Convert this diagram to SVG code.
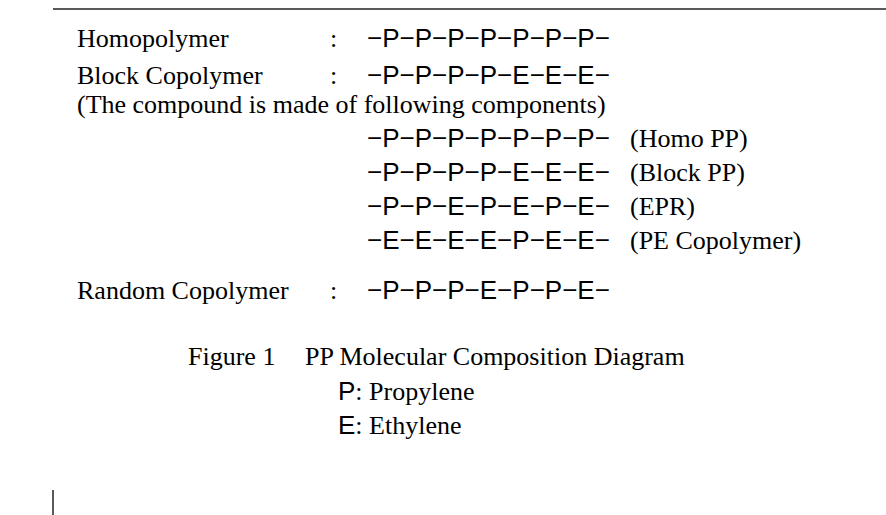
<svg xmlns="http://www.w3.org/2000/svg" width="886" height="515" viewBox="0 0 886 515">
<style>
.t{font-family:"Liberation Serif","Times New Roman",serif;font-size:26px;fill:#000}
.s{font-family:"Liberation Sans",Arial,sans-serif;font-size:26px;fill:#000}
.ln{stroke:#222;stroke-width:1.5;fill:none}
</style>
<rect width="886" height="515" fill="#fff"/>
<g id="frame">
<line class="ln" x1="53" y1="9" x2="886" y2="9"/>
<line class="ln" x1="53" y1="490" x2="53" y2="515"/>
</g>
<g id="homopolymer">
<text class="t" x="77" y="47">Homopolymer</text>
<text class="t" x="330" y="47">:</text>
<text class="s" x="367" y="47">−P−P−P−P−P−P−P−</text>
</g>
<g id="block">
<text class="t" x="77" y="84">Block Copolymer</text>
<text class="t" x="330" y="84">:</text>
<text class="s" x="367" y="84">−P−P−P−P−E−E−E−</text>
<text class="t" x="77" y="113">(The compound is made of following components)</text>
</g>
<g id="components">
<text class="s" x="367" y="147">−P−P−P−P−P−P−P−</text><text class="t" x="630" y="147">(Homo PP)</text>
<text class="s" x="367" y="181">−P−P−P−P−E−E−E−</text><text class="t" x="630" y="181">(Block PP)</text>
<text class="s" x="367" y="215">−P−P−E−P−E−P−E−</text><text class="t" x="630" y="215">(EPR)</text>
<text class="s" x="367" y="249">−E−E−E−E−P−E−E−</text><text class="t" x="630" y="249">(PE Copolymer)</text>
</g>
<g id="random">
<text class="t" x="77" y="299">Random Copolymer</text>
<text class="t" x="330" y="299">:</text>
<text class="s" x="367" y="299">−P−P−P−E−P−P−E−</text>
</g>
<g id="caption">
<text class="t" x="188" y="365">Figure 1</text>
<text class="t" x="305" y="365">PP Molecular Composition Diagram</text>
<text class="t" x="338" y="400"><tspan class="s">P</tspan>: Propylene</text>
<text class="t" x="338" y="434"><tspan class="s">E</tspan>: Ethylene</text>
</g>
</svg>
